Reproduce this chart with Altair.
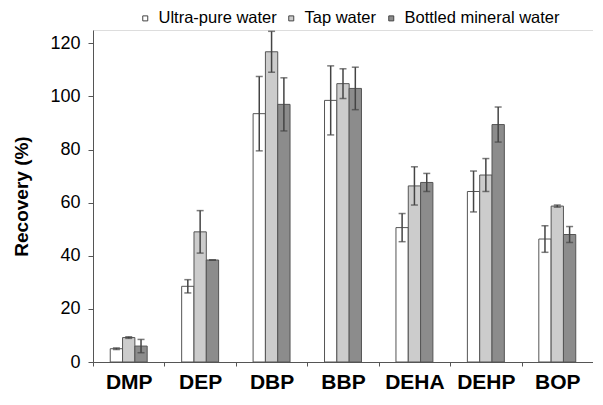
import altair as alt
import pandas as pd

compounds = ["DMP", "DEP", "DBP", "BBP", "DEHA", "DEHP", "BOP"]
series = ["Ultra-pure water", "Tap water", "Bottled mineral water"]

ultra_mean = [5.0, 28.5, 93.5, 98.5, 50.6, 64.2, 46.3]
ultra_err = [0.3, 2.5, 14.0, 13.0, 5.3, 7.7, 5.0]
tap_mean = [9.2, 49.0, 116.8, 104.8, 66.3, 70.4, 58.7]
tap_err = [0.3, 8.0, 7.7, 5.6, 7.2, 6.2, 0.4]
bottled_mean = [6.0, 38.4, 97.0, 103.0, 67.6, 89.4, 48.0]
bottled_err = [2.5, 0.0, 10.0, 8.0, 3.4, 6.6, 3.0]

y_ticks = [0, 20, 40, 60, 80, 100, 120]
colors = ["#ffffff", "#cccccc", "#8c8c8c"]

rows = []
for s, means, errs in zip(series, [ultra_mean, tap_mean, bottled_mean],
                          [ultra_err, tap_err, bottled_err]):
    for c, m, e in zip(compounds, means, errs):
        rows.append({"compound": c, "water": s, "mean": m, "lo": m - e, "hi": m + e})
df = pd.DataFrame(rows)

FONT = "Liberation Sans"
# offset domain with empty slots on both sides to narrow the bar group
offset_domain = ["_a"] + series + ["_b"]

x_enc = alt.X(
    "compound:N", sort=compounds,
    scale=alt.Scale(paddingInner=0, paddingOuter=0),
    axis=alt.Axis(title=None, labelAngle=0, labelFont=FONT, labelFontWeight="bold",
                  labelFontSize=21, labelColor="black", tickBand="extent",
                  tickSize=4, labelPadding=5, domainColor="#555", tickColor="#555",
                  grid=False),
)
xo_enc = alt.XOffset("water:N",
                     scale=alt.Scale(domain=offset_domain, paddingOuter=0.4, paddingInner=0))
y_scale = alt.Scale(domain=[0, 125], nice=False)

bars = alt.Chart(df).mark_bar(stroke="#555", strokeWidth=1).encode(
    x=x_enc,
    xOffset=xo_enc,
    y=alt.Y("mean:Q", scale=y_scale,
            axis=alt.Axis(values=y_ticks, title="Recovery (%)", titleFont=FONT,
                          titleFontWeight="bold", titleFontSize=19, titleColor="black",
                          titlePadding=18, labelFont=FONT, labelFontSize=18,
                          labelColor="black", tickSize=5, labelPadding=8,
                          domainColor="#555", tickColor="#555", grid=False)),
    color=alt.Color("water:N", sort=series,
                    scale=alt.Scale(domain=series, range=colors),
                    legend=alt.Legend(title=None, orient="none", direction="horizontal",
                                      legendX=44, legendY=-20, symbolType="square",
                                      symbolSize=25, symbolStrokeColor="#444",
                                      symbolStrokeWidth=1, labelFont=FONT,
                                      labelFontSize=16.5, labelColor="black",
                                      labelOffset=5, columnPadding=6, padding=0)),
)

err = alt.Chart(df).mark_rule(color="#444", strokeWidth=1.5).encode(
    x=x_enc, xOffset=xo_enc,
    y=alt.Y("lo:Q", scale=y_scale), y2="hi:Q",
)
cap_hi = alt.Chart(df).mark_tick(color="#444", thickness=1.5, size=7).encode(
    x=x_enc, xOffset=xo_enc, y=alt.Y("hi:Q", scale=y_scale),
)
cap_lo = alt.Chart(df).mark_tick(color="#444", thickness=1.5, size=7).encode(
    x=x_enc, xOffset=xo_enc, y=alt.Y("lo:Q", scale=y_scale),
)

chart = alt.layer(bars, err, cap_hi, cap_lo).properties(
    width=500, height=332,
    autosize=alt.AutoSizeParams(type="none"),
    padding={"left": 85, "top": 22, "right": 0, "bottom": 29},
).configure_view(stroke=None).configure(background="white")

chart.save("out.html", embed_options={"renderer": "svg", "actions": False})
